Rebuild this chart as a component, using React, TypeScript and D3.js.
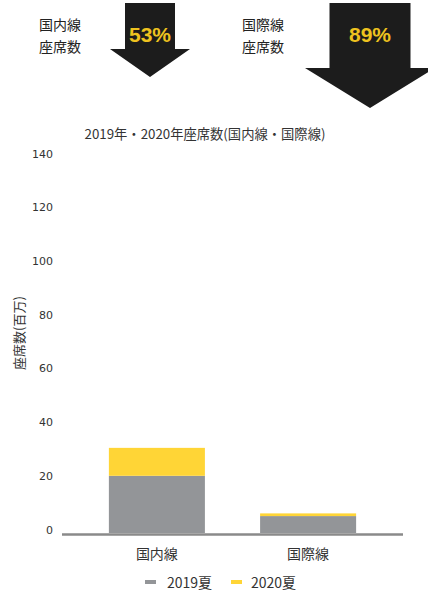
import React from "react";
import * as d3 from "d3";

const categories = ["国内線", "国際線"];
const seats2019 = [21.3, 6.3];
const seats2020 = [10.4, 1.0];
const seriesNames = ["2019夏", "2020夏"];
const yTicks = [0, 20, 40, 60, 80, 100, 120, 140];
const declineLabels = ["53%", "89%"];

const W = 428;
const H = 595;
const GRAY = "#939598";
const YELLOW = "#ffd536";
const JP = "'Noto Sans CJK JP', 'Noto Sans', sans-serif";
const NUM = "'DejaVu Sans', Verdana, sans-serif";

function Arrow({ cx, top, shaftW, headStart, headW, tip, label, textY }: any) {
  const path = d3.path();
  path.moveTo(cx - shaftW / 2, top);
  path.lineTo(cx + shaftW / 2, top);
  path.lineTo(cx + shaftW / 2, headStart);
  path.lineTo(cx + headW / 2, headStart);
  path.lineTo(cx, tip);
  path.lineTo(cx - headW / 2, headStart);
  path.lineTo(cx - shaftW / 2, headStart);
  path.closePath();
  return (
    <g>
      <path d={path.toString()} fill="#1c1c1c" />
      <text
        x={cx}
        y={textY}
        textAnchor="middle"
        dominantBaseline="central"
        fill="#eec21f"
        fontFamily="'Liberation Sans', Arial, sans-serif"
        fontWeight="bold"
        fontSize={21}
      >
        {label}
      </text>
    </g>
  );
}

export default function App() {
  const y = d3.scaleLinear().domain([0, 140]).range([533, 157]);
  const x = d3
    .scaleBand<string>()
    .domain(categories)
    .range([62, 403])
    .paddingInner(0.365)
    .paddingOuter(0.31);

  const stackData = categories.map((c, i) => ({ cat: c, s2019: seats2019[i], s2020: seats2020[i] }));
  const stack = d3.stack<any>().keys(["s2019", "s2020"]);
  const layers = stack(stackData);
  const colors = [GRAY, YELLOW];

  return (
    <svg
      width={W}
      height={H}
      style={{ position: "absolute", left: 0, top: 0, background: "#fff" }}
    >
      {/* Top arrows */}
      <text x={39} y={24} fontFamily={JP} fontSize={14} fill="#222" dominantBaseline="central">
        国内線
      </text>
      <text x={39} y={46} fontFamily={JP} fontSize={14} fill="#222" dominantBaseline="central">
        座席数
      </text>
      <Arrow cx={150} top={3} shaftW={50} headStart={49} headW={80} tip={77} label={declineLabels[0]} textY={34} />

      <text x={242} y={24} fontFamily={JP} fontSize={14} fill="#222" dominantBaseline="central">
        国際線
      </text>
      <text x={242} y={46} fontFamily={JP} fontSize={14} fill="#222" dominantBaseline="central">
        座席数
      </text>
      <Arrow cx={370} top={3} shaftW={81} headStart={68} headW={130} tip={108} label={declineLabels[1]} textY={34} />

      {/* Title */}
      <text x={205} y={133} textAnchor="middle" dominantBaseline="central" fontFamily={JP} fontSize={13.3} fill="#333">
        2019年・2020年座席数(国内線・国際線)
      </text>

      {/* Y ticks */}
      {yTicks.map((t) => (
        <text
          key={t}
          x={53}
          y={y(t) - 3}
          textAnchor="end"
          dominantBaseline="central"
          fontFamily={NUM}
          fontSize={11}
          fill="#333"
        >
          {t}
        </text>
      ))}

      {/* Y axis title */}
      <text
        transform={`translate(18, 333) rotate(-90)`}
        textAnchor="middle"
        dominantBaseline="central"
        fontFamily={JP}
        fontSize={13}
        fill="#333"
      >
        座席数(百万)
      </text>

      {/* Bars */}
      {layers.map((layer, li) =>
        layer.map((d, i) => (
          <rect
            key={`${li}-${i}`}
            x={x(categories[i])!}
            width={x.bandwidth()}
            y={y(d[1])}
            height={y(d[0]) - y(d[1])}
            fill={colors[li]}
          />
        ))
      )}

      {/* Baseline */}
      <line x1={62} x2={403} y1={534.5} y2={534.5} stroke="#8a8a8a" strokeWidth={2.5} />

      {/* X labels */}
      {categories.map((c) => (
        <text
          key={c}
          x={x(c)! + x.bandwidth() / 2}
          y={553}
          textAnchor="middle"
          dominantBaseline="central"
          fontFamily={JP}
          fontSize={14}
          fill="#333"
        >
          {c}
        </text>
      ))}

      {/* Legend */}
      <line x1={145} x2={156} y1={582} y2={582} stroke={GRAY} strokeWidth={4} />
      <text x={167} y={582} dominantBaseline="central" fontFamily={JP} fontSize={14} fill="#333">
        {seriesNames[0]}
      </text>
      <line x1={231} x2={242} y1={582} y2={582} stroke={YELLOW} strokeWidth={4} />
      <text x={251} y={582} dominantBaseline="central" fontFamily={JP} fontSize={14} fill="#333">
        {seriesNames[1]}
      </text>
    </svg>
  );
}
